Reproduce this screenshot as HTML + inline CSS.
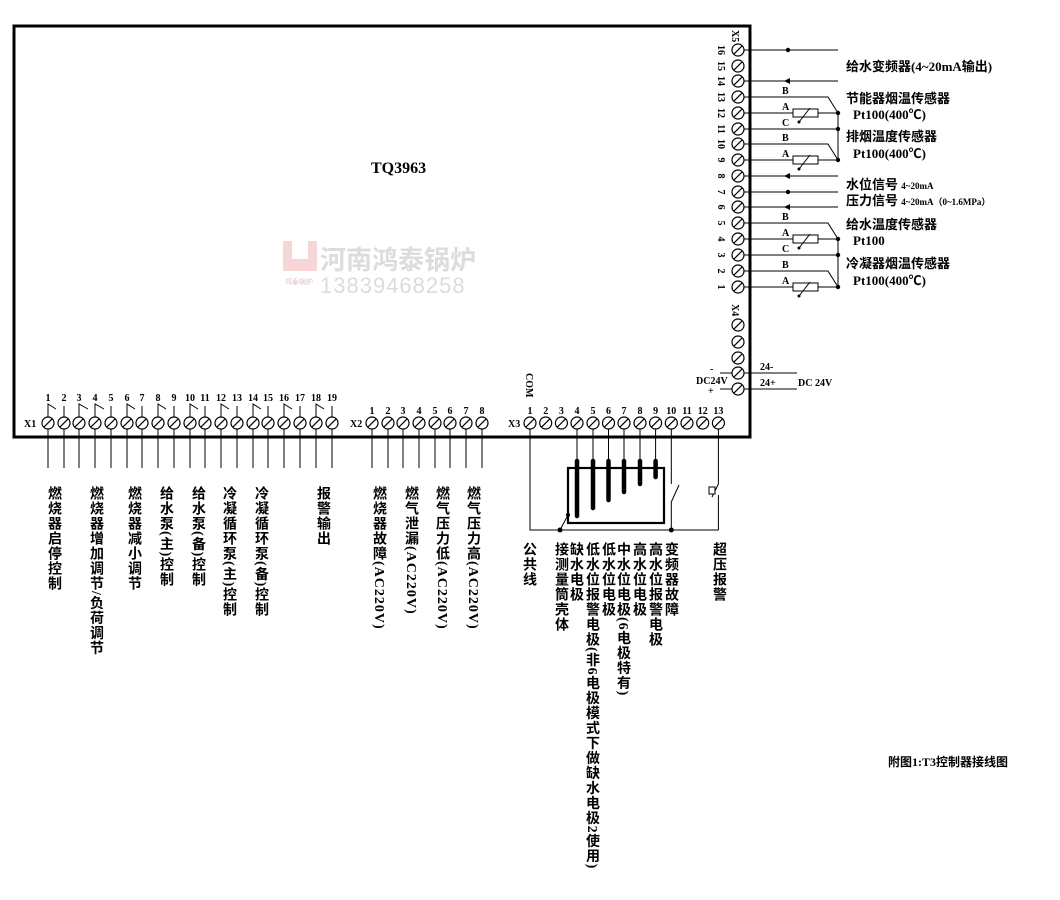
<!DOCTYPE html>
<html><head><meta charset="utf-8"><style>
body{margin:0;background:#fff;}
#w{position:relative;width:1060px;height:900px;overflow:hidden;font-family:"Liberation Serif","Noto Serif CJK SC","Noto Sans CJK SC",serif;}
svg{position:absolute;left:0;top:0;}
.v{position:absolute;writing-mode:vertical-rl;font-size:14px;font-weight:bold;line-height:14px;letter-spacing:1px;font-family:"Liberation Serif","Noto Sans CJK SC",sans-serif;white-space:nowrap;}
</style></head><body><div id="w">
<svg width="1060" height="900" viewBox="0 0 1060 900" font-family="Liberation Serif, Noto Sans CJK SC, serif">
<defs>
<g id="t"><circle r="6" fill="#fff" stroke="#000" stroke-width="1.2"/><line x1="-4.2" y1="4.2" x2="4.2" y2="-4.2" stroke="#000" stroke-width="1.2"/></g>
<g id="res"><rect x="-12" y="-4" width="25" height="8" fill="#fff" stroke="#000" stroke-width="1"/><line x1="-6" y1="9" x2="5" y2="-5" stroke="#000" stroke-width="1"/><circle cx="-6" cy="9" r="1.5"/></g>
</defs>
<!-- watermark -->
<rect x="283" y="241" width="34" height="30" fill="#f6d6d6"/>
<rect x="292" y="241" width="16" height="18" fill="#fff"/>
<text x="285" y="284" font-size="7" fill="#e2c0c0">鸿泰锅炉</text>
<text x="320" y="269" font-size="26" font-weight="bold" fill="#dcdcdc" font-family="Liberation Sans, Noto Sans CJK SC, sans-serif">河南鸿泰锅炉</text>
<text x="320" y="293" font-size="22" fill="#dcdcdc" font-family="Liberation Sans, sans-serif" letter-spacing="1">13839468258</text>
<!-- main box -->
<path d="M14 26 H750 V437 H14 Z" fill="none" stroke="#000" stroke-width="3"/>
<text x="371" y="173" font-size="16" font-weight="bold">TQ3963</text>
<g stroke="#000" stroke-width="1" fill="none">
<!-- X1/X2 wires -->
<path d="M48 429V468M64 429V468M79 429V468M95 429V468M111 429V468M127 429V468M142 429V468M158 429V468M174 429V468M190 429V468M205 429V468M221 429V468M237 429V468M253 429V468M268 429V468M284 429V468M300 429V468M316 429V468M332 429V468"/>
<path d="M372 429V468M388 429V468M403 429V468M419 429V468M435 429V468M450 429V468M466 429V468M482 429V468"/>
<!-- X1 jumpers -->
<path d="M48 417V404L56 409M64 417V406 M79 417V404L88 409M95 417V404L104 409M111 417V406M127 417V404L135 409M142 417V406M158 417V404L166 409M174 417V406M190 417V404L198 409M205 417V406M221 417V404L229 409M237 417V406M253 417V404L261 409M268 417V406M284 417V404L292 409M300 417V406M316 417V404L324 409M332 417V406"/>
<!-- X3 wiring -->
<path d="M530 429V530H718.4M718.4 429V484L712 497M718.4 495V530M671.3 429V484M671.3 502L679 485M671.3 502V530M560 530L568 515"/>
<path d="M577 429V462M593 429V462M608.5 429V462M624 429V462M640 429V462M655.6 429V462"/>
<rect x="568" y="468" width="96" height="55" stroke-width="2.2"/>
</g>
<g stroke="#000" stroke-width="4.5" stroke-linecap="round">
<path d="M577 461V516M593 461V508M608.5 461V500M624 461V492M640 461V484M655.6 461V477"/>
</g>
<rect x="709" y="487" width="6" height="7" fill="#fff" stroke="#000"/>
<circle cx="560" cy="530" r="2.5"/><circle cx="671.3" cy="530" r="2.5"/><circle cx="568" cy="515" r="2"/>
<!-- terminals X1 -->
<g>
<use href="#t" x="48" y="423"/><use href="#t" x="64" y="423"/><use href="#t" x="79" y="423"/><use href="#t" x="95" y="423"/><use href="#t" x="111" y="423"/><use href="#t" x="127" y="423"/><use href="#t" x="142" y="423"/><use href="#t" x="158" y="423"/><use href="#t" x="174" y="423"/><use href="#t" x="190" y="423"/><use href="#t" x="205" y="423"/><use href="#t" x="221" y="423"/><use href="#t" x="237" y="423"/><use href="#t" x="253" y="423"/><use href="#t" x="268" y="423"/><use href="#t" x="284" y="423"/><use href="#t" x="300" y="423"/><use href="#t" x="316" y="423"/><use href="#t" x="332" y="423"/>
<use href="#t" x="372" y="423"/><use href="#t" x="388" y="423"/><use href="#t" x="403" y="423"/><use href="#t" x="419" y="423"/><use href="#t" x="435" y="423"/><use href="#t" x="450" y="423"/><use href="#t" x="466" y="423"/><use href="#t" x="482" y="423"/>
<use href="#t" x="530" y="423"/><use href="#t" x="545.7" y="423"/><use href="#t" x="561.4" y="423"/><use href="#t" x="577" y="423"/><use href="#t" x="593" y="423"/><use href="#t" x="608.5" y="423"/><use href="#t" x="624" y="423"/><use href="#t" x="640" y="423"/><use href="#t" x="655.6" y="423"/><use href="#t" x="671.3" y="423"/><use href="#t" x="687" y="423"/><use href="#t" x="702.7" y="423"/><use href="#t" x="718.4" y="423"/>
</g>
<g font-size="10" font-weight="bold" text-anchor="middle">
<text x="48" y="401">1</text><text x="64" y="401">2</text><text x="79" y="401">3</text><text x="95" y="401">4</text><text x="111" y="401">5</text><text x="127" y="401">6</text><text x="142" y="401">7</text><text x="158" y="401">8</text><text x="174" y="401">9</text><text x="190" y="401">10</text><text x="205" y="401">11</text><text x="221" y="401">12</text><text x="237" y="401">13</text><text x="253" y="401">14</text><text x="268" y="401">15</text><text x="284" y="401">16</text><text x="300" y="401">17</text><text x="316" y="401">18</text><text x="332" y="401">19</text>
<text x="372" y="414">1</text><text x="388" y="414">2</text><text x="403" y="414">3</text><text x="419" y="414">4</text><text x="435" y="414">5</text><text x="450" y="414">6</text><text x="466" y="414">7</text><text x="482" y="414">8</text>
<text x="530" y="414">1</text><text x="545.7" y="414">2</text><text x="561.4" y="414">3</text><text x="577" y="414">4</text><text x="593" y="414">5</text><text x="608.5" y="414">6</text><text x="624" y="414">7</text><text x="640" y="414">8</text><text x="655.6" y="414">9</text><text x="671.3" y="414">10</text><text x="687" y="414">11</text><text x="702.7" y="414">12</text><text x="718.4" y="414">13</text>
</g>
<g font-size="10" font-weight="bold">
<text x="24" y="427">X1</text><text x="350" y="427">X2</text><text x="508" y="427">X3</text>
<text transform="translate(526,373) rotate(90)">COM</text>
</g>
<!-- right side X5 -->
<g stroke="#000" stroke-width="1" fill="none">
<path d="M744 50H838M744 81H838M744 176H838M744 192H838M744 207H838"/>
<path d="M744 97H828L838 113M744 113H838M744 129H838M744 144H828L838 160M744 160H838M838 113V160"/>
<path d="M744 223H828L838 239M744 239H838M744 255H838M744 271H828L838 287M744 287H838M838 239V287"/>
<path d="M720 373H797M720 389H797"/>
</g>
<g fill="#000">
<circle cx="788" cy="50" r="2.2"/><circle cx="788" cy="192" r="2.2"/>
<path d="M784 81l6-3v6z M784 176l6-3v6z M784 207l6-3v6z"/>
<circle cx="838" cy="113" r="2.2"/><circle cx="838" cy="129" r="2.2"/><circle cx="838" cy="160" r="2.2"/>
<circle cx="838" cy="239" r="2.2"/><circle cx="838" cy="255" r="2.2"/><circle cx="838" cy="287" r="2.2"/>
</g>
<use href="#res" x="805" y="113"/><use href="#res" x="805" y="160"/><use href="#res" x="805" y="239"/><use href="#res" x="805" y="287"/>
<g>
<use href="#t" x="738" y="50"/><use href="#t" x="738" y="66"/><use href="#t" x="738" y="81"/><use href="#t" x="738" y="97"/><use href="#t" x="738" y="113"/><use href="#t" x="738" y="129"/><use href="#t" x="738" y="144"/><use href="#t" x="738" y="160"/><use href="#t" x="738" y="176"/><use href="#t" x="738" y="192"/><use href="#t" x="738" y="207"/><use href="#t" x="738" y="223"/><use href="#t" x="738" y="239"/><use href="#t" x="738" y="255"/><use href="#t" x="738" y="271"/><use href="#t" x="738" y="287"/>
<use href="#t" x="738" y="325"/><use href="#t" x="738" y="342"/><use href="#t" x="738" y="358"/><use href="#t" x="738" y="373"/><use href="#t" x="738" y="389"/>
</g>
<g font-size="10" font-weight="bold">
<text transform="translate(732,30) rotate(90)">X5</text>
<text transform="translate(732,304) rotate(90)">X4</text>
<g text-anchor="middle">
<text transform="translate(718,50) rotate(90)">16</text><text transform="translate(718,66) rotate(90)">15</text><text transform="translate(718,81) rotate(90)">14</text><text transform="translate(718,97) rotate(90)">13</text><text transform="translate(718,113) rotate(90)">12</text><text transform="translate(718,129) rotate(90)">11</text><text transform="translate(718,144) rotate(90)">10</text><text transform="translate(718,160) rotate(90)">9</text><text transform="translate(718,176) rotate(90)">8</text><text transform="translate(718,192) rotate(90)">7</text><text transform="translate(718,207) rotate(90)">6</text><text transform="translate(718,223) rotate(90)">5</text><text transform="translate(718,239) rotate(90)">4</text><text transform="translate(718,255) rotate(90)">3</text><text transform="translate(718,271) rotate(90)">2</text><text transform="translate(718,287) rotate(90)">1</text>
</g>
<text x="782" y="94">B</text><text x="782" y="110">A</text><text x="782" y="126">C</text>
<text x="782" y="141">B</text><text x="782" y="157">A</text>
<text x="782" y="220">B</text><text x="782" y="236">A</text><text x="782" y="252">C</text>
<text x="782" y="268">B</text><text x="782" y="284">A</text>
<text x="760" y="370">24-</text><text x="760" y="386">24+</text><text x="798" y="386">DC 24V</text>
<text x="696" y="384">DC24V</text><text x="710" y="372">-</text><text x="708" y="394">+</text>
</g>
<g font-size="13" font-weight="bold" font-family="Liberation Serif, Noto Sans CJK SC, sans-serif">
<text x="846" y="71">给水变频器(4~20mA输出)</text>
<text x="846" y="103">节能器烟温传感器</text>
<text x="853" y="119">Pt100(400℃)</text>
<text x="846" y="141">排烟温度传感器</text>
<text x="853" y="158">Pt100(400℃)</text>
<text x="846" y="189">水位信号 <tspan font-size="9">4~20mA</tspan></text>
<text x="846" y="205">压力信号 <tspan font-size="9">4~20mA（0~1.6MPa）</tspan></text>
<text x="846" y="229">给水温度传感器</text>
<text x="853" y="245">Pt100</text>
<text x="846" y="268">冷凝器烟温传感器</text>
<text x="853" y="285">Pt100(400℃)</text>
<text x="888" y="766" font-size="12">附图1:T3控制器接线图</text>
</g>
</svg>
<div class="v" style="left:46px;top:486px">燃烧器启停控制</div>
<div class="v" style="left:88px;top:486px">燃烧器增加调节/负荷调节</div>
<div class="v" style="left:126px;top:486px">燃烧器减小调节</div>
<div class="v" style="left:158px;top:486px">给水泵(主)控制</div>
<div class="v" style="left:190px;top:486px">给水泵(备)控制</div>
<div class="v" style="left:221px;top:486px">冷凝循环泵(主)控制</div>
<div class="v" style="left:253px;top:486px">冷凝循环泵(备)控制</div>
<div class="v" style="left:315px;top:486px">报警输出</div>
<div class="v" style="left:371px;top:486px">燃烧器故障(AC220V)</div>
<div class="v" style="left:403px;top:486px">燃气泄漏(AC220V)</div>
<div class="v" style="left:434px;top:486px">燃气压力低(AC220V)</div>
<div class="v" style="left:465px;top:486px">燃气压力高(AC220V)</div>
<div class="v" style="left:521px;top:542px">公共线</div>
<div class="v" style="left:553px;top:542px">接测量筒壳体</div>
<div class="v" style="left:568px;top:542px">缺水电极</div>
<div class="v" style="left:584px;top:542px">低水位报警电极(非6电极模式下做缺水电极2使用)</div>
<div class="v" style="left:600px;top:542px">低水位电极</div>
<div class="v" style="left:615px;top:542px">中水位电极(6电极特有)</div>
<div class="v" style="left:631px;top:542px">高水位电极</div>
<div class="v" style="left:647px;top:542px">高水位报警电极</div>
<div class="v" style="left:663px;top:542px">变频器故障</div>
<div class="v" style="left:711px;top:542px">超压报警</div>
</div></body></html>
